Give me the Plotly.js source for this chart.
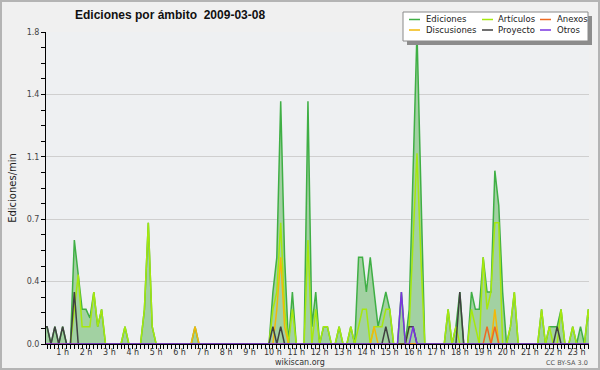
<!DOCTYPE html>
<html>
<head>
<meta charset="utf-8">
<script src="https://cdn.plot.ly/plotly-3.0.1.min.js"></script>
<style>
  html, body { margin: 0; padding: 0; background: #f0f0f0; }
  #wrap { position: relative; width: 600px; height: 370px; }
  #chart { width: 600px; height: 370px; }
  #frame { position: absolute; left: 0; top: 0; width: 600px; height: 370px; box-sizing: border-box;
           border: 2px solid #b4b4b4; pointer-events: none; }
</style>
</head>
<body>
<div id="wrap"><div id="chart"></div><div id="frame"></div></div>
<script>
// ---- data: 10-minute bins (00:00 .. 23:50), edits per minute ----
const ediciones = [
  0, 0.1, 0.1, 0, 0.1, 0,        // 0 h
  0.1, 0, 0, 0.6, 0.4, 0.2,      // 1 h
  0.2, 0.15, 0.3, 0.1, 0.2, 0,   // 2 h
  0, 0, 0, 0, 0.1, 0,            // 3 h
  0, 0, 0, 0.2, 0.7, 0.1,        // 4 h
  0, 0, 0, 0, 0, 0,              // 5 h
  0, 0, 0, 0, 0.1, 0,            // 6 h
  0, 0, 0, 0, 0, 0,              // 7 h
  0, 0, 0, 0, 0, 0,              // 8 h
  0, 0, 0, 0, 0, 0,              // 9 h
  0.3, 0.5, 1.4, 0.5, 0, 0.3,    // 10 h
  0, 0, 0, 1.4, 0.1, 0.3,        // 11 h
  0, 0.1, 0.1, 0, 0, 0.1,        // 12 h
  0, 0, 0.1, 0, 0.5, 0.5,        // 13 h
  0.3, 0.5, 0.3, 0.1, 0.2, 0.3,  // 14 h
  0.2, 0, 0, 0.3, 0, 0.2,        // 15 h
  1.0, 1.8, 0.9, 0, 0, 0,        // 16 h
  0, 0, 0, 0.2, 0, 0.1,          // 17 h
  0.3, 0, 0, 0.3, 0.2, 0.2,      // 18 h
  0.5, 0.3, 0.3, 1.0, 0.8, 0.3,  // 19 h
  0, 0.1, 0.3, 0, 0, 0,          // 20 h
  0, 0, 0, 0.2, 0, 0.1,          // 21 h
  0.1, 0.1, 0.2, 0, 0, 0.1,      // 22 h
  0, 0.1, 0, 0.2, 0, 0           // 23 h
];
const articulos = [
  0, 0, 0, 0, 0, 0,
  0, 0, 0, 0.2, 0.4, 0.1,
  0.1, 0.1, 0.3, 0.1, 0.2, 0,
  0, 0, 0, 0, 0.1, 0,
  0, 0, 0, 0.2, 0.7, 0.1,
  0, 0, 0, 0, 0, 0,
  0, 0, 0, 0, 0, 0,
  0, 0, 0, 0, 0, 0,
  0, 0, 0, 0, 0, 0,
  0, 0, 0, 0, 0, 0,
  0.2, 0.3, 0.7, 0.2, 0, 0.2,
  0, 0, 0, 0.6, 0, 0.2,
  0, 0.1, 0.1, 0, 0, 0.1,
  0, 0, 0.1, 0, 0.1, 0.2,
  0.2, 0, 0.1, 0.1, 0.1, 0.2,
  0.2, 0, 0, 0, 0, 0.1,
  0.6, 1.1, 0.5, 0, 0, 0,
  0, 0, 0, 0.2, 0, 0.1,
  0, 0, 0, 0.2, 0.1, 0,
  0.5, 0.2, 0.3, 0.7, 0.7, 0,
  0, 0.1, 0.3, 0, 0, 0,
  0, 0, 0, 0.2, 0, 0.1,
  0, 0, 0.2, 0, 0, 0.1,
  0, 0, 0, 0.2, 0, 0
];
const anexos = [
  0,0,0,0,0,0, 0,0,0,0,0,0, 0,0,0,0,0,0, 0,0,0,0,0,0,
  0,0,0,0,0,0, 0,0,0,0,0,0, 0,0,0,0,0,0, 0,0,0,0,0,0,
  0,0,0,0,0,0, 0,0,0,0,0,0, 0,0,0,0,0,0, 0,0,0,0,0,0,
  0,0,0,0,0,0, 0,0,0,0,0,0, 0,0,0,0,0,0, 0,0,0,0,0,0,
  0,0,0,0,0,0, 0,0,0,0,0,0, 0,0,0,0,0,0,
  0, 0.1, 0, 0.1, 0, 0,          // 19 h
  0,0,0,0,0,0, 0,0,0,0,0,0, 0,0,0,0,0,0, 0,0,0,0,0,0
];
const discusiones = [
  0,0,0,0,0,0, 0,0,0,0,0,0, 0,0,0,0,0,0, 0,0,0,0,0,0,
  0,0,0,0,0,0, 0,0,0,0,0,0,
  0, 0, 0, 0, 0.1, 0,            // 6 h
  0,0,0,0,0,0, 0,0,0,0,0,0, 0,0,0,0,0,0,
  0, 0.2, 0.5, 0.1, 0, 0,        // 10 h
  0,0,0,0,0,0, 0,0,0,0,0,0, 0,0,0,0,0,0,
  0, 0, 0.1, 0, 0, 0,            // 14 h
  0,0,0,0,0,0, 0,0,0,0,0,0, 0,0,0,0,0,0, 0,0,0,0,0,0,
  0, 0, 0, 0.2, 0, 0,            // 19 h
  0,0,0,0,0,0, 0,0,0,0,0,0, 0,0,0,0,0,0, 0,0,0,0,0,0
];
const proyecto = [
  0, 0.1, 0.1, 0, 0.1, 0,        // 0 h
  0.1, 0, 0, 0.3, 0, 0,          // 1 h
  0,0,0,0,0,0, 0,0,0,0,0,0, 0,0,0,0,0,0, 0,0,0,0,0,0,
  0,0,0,0,0,0, 0,0,0,0,0,0, 0,0,0,0,0,0, 0,0,0,0,0,0,
  0.1, 0, 0.1, 0, 0, 0,          // 10 h
  0,0,0,0,0,0, 0,0,0,0,0,0, 0,0,0,0,0,0,
  0, 0, 0, 0, 0, 0.1,            // 14 h
  0, 0, 0, 0, 0, 0.1,            // 15 h
  0.1, 0, 0, 0, 0, 0,            // 16 h
  0,0,0,0,0,0,
  0.3, 0, 0, 0, 0, 0,            // 18 h
  0,0,0,0,0,0, 0,0,0,0,0,0, 0,0,0,0,0,0,
  0, 0.1, 0, 0, 0, 0,            // 22 h
  0,0,0,0,0,0
];
const otros = [
  0,0,0,0,0,0, 0,0,0,0,0,0, 0,0,0,0,0,0, 0,0,0,0,0,0,
  0,0,0,0,0,0, 0,0,0,0,0,0, 0,0,0,0,0,0, 0,0,0,0,0,0,
  0,0,0,0,0,0, 0,0,0,0,0,0, 0,0,0,0,0,0, 0,0,0,0,0,0,
  0,0,0,0,0,0, 0,0,0,0,0,0, 0,0,0,0,0,0,
  0, 0, 0, 0.3, 0, 0,            // 15 h
  0.1, 0, 0, 0, 0, 0,            // 16 h
  0,0,0,0,0,0, 0,0,0,0,0,0, 0,0,0,0,0,0, 0,0,0,0,0,0,
  0,0,0,0,0,0, 0,0,0,0,0,0, 0,0,0,0,0,0
];

const hourTicks = [1,2,3,4,5,6,7,8,9,10,11,12,13,14,15,16,17,18,19,20,21,22,23];
const hourLabels = ['1 h','2 h','3 h','4 h','5 h','6 h','7 h','8 h','9 h','10 h','11 h','12 h',
                    '13 h','14 h','15 h','16 h','17 h','18 h','19 h','20 h','21 h','22 h','23 h'];
const yTicks = [0, 0.36, 0.72, 1.08, 1.44, 1.8];
const yLabels = ['0.0', '0.4', '0.7', '1.1', '1.4', '1.8'];

const titleText = 'Ediciones por ámbito \u00a02009-03-08';
const names  = ['Ediciones', 'Artículos', 'Anexos', 'Discusiones', 'Proyecto', 'Otros'];
const colors = ['#3faf45', '#a6e80e', '#ee6a22', '#f2b90a', '#404040', '#7a35e0'];
const fillColor = '#a2d1a2';

// bin positions in hours (10-minute bins)
const hours = ediciones.map((_, i) => i / 6);

const lineW = 1.5;
const traces = [
  { x: hours, y: ediciones, type: 'scatter', mode: 'lines', fill: 'tozeroy', fillcolor: fillColor,
    line: { color: colors[0], width: lineW }, name: names[0], showlegend: false },
  { x: hours, y: articulos, type: 'scatter', mode: 'lines', line: { color: colors[1], width: lineW }, name: names[1], showlegend: false },
  { x: hours, y: discusiones, type: 'scatter', mode: 'lines', line: { color: colors[3], width: lineW }, name: names[3], showlegend: false },
  { x: hours, y: anexos, type: 'scatter', mode: 'lines', line: { color: colors[2], width: lineW }, name: names[2], showlegend: false },
  { x: hours, y: proyecto, type: 'scatter', mode: 'lines', line: { color: colors[4], width: lineW }, name: names[4], showlegend: false },
  { x: hours, y: otros, type: 'scatter', mode: 'lines', line: { color: colors[5], width: lineW }, name: names[5], showlegend: false }
];

// pixel helpers for decorations (plot area: x 46..589, y 32..344)
const L = 46, R = 589, T = 32, B = 344;
const px = v => (v - L) / (R - L);
const py = v => (B - v) / (B - T);

const shapes = [
  { type: 'rect', xref: 'paper', yref: 'paper', x0: px(407), x1: px(592), y0: py(16), y1: py(45),
    fillcolor: '#8c8c8c', line: { width: 0 }, layer: 'above' },
  { type: 'rect', xref: 'paper', yref: 'paper', x0: px(403), x1: px(588), y0: py(12), y1: py(41),
    fillcolor: '#ffffff', line: { color: '#8a8a8a', width: 1 }, layer: 'above' }
];
const annotations = [];
// legend layout: 3 columns x 2 rows
const legCols = [[0, 3], [1, 4], [2, 5]];
const colLine = [[409, 420], [482, 493], [540, 551]];
const colText = [424, 496, 555];
const rowY = [19.5, 30];
legCols.forEach((col, ci) => {
  col.forEach((si, ri) => {
    shapes.push({ type: 'line', xref: 'paper', yref: 'paper',
      x0: px(colLine[ci][0]), x1: px(colLine[ci][1]), y0: py(rowY[ri]), y1: py(rowY[ri]),
      line: { color: colors[si], width: 1.5 }, layer: 'above' });
    annotations.push({ xref: 'paper', yref: 'paper', x: px(colText[ci]), y: py(rowY[ri]),
      xanchor: 'left', yanchor: 'middle', showarrow: false, text: names[si],
      font: { family: 'DejaVu Sans', size: 8.5, color: '#222' } });
  });
});
annotations.push({ xref: 'paper', yref: 'paper', x: px(300), y: py(362), xanchor: 'center', yanchor: 'middle',
  showarrow: false, text: 'wikiscan.org', font: { family: 'DejaVu Sans', size: 8, color: '#333' } });
annotations.push({ xref: 'paper', yref: 'paper', x: px(590), y: py(363), xanchor: 'right', yanchor: 'middle',
  showarrow: false, text: 'CC BY-SA 3.0', font: { family: 'DejaVu Sans', size: 6.5, color: '#555' } });

const layout = {
  width: 600, height: 370,
  margin: { l: L, r: 600 - R, t: T, b: 370 - B, pad: 0 },
  paper_bgcolor: '#f0f0f0',
  plot_bgcolor: '#eef0f2',
  font: { family: 'DejaVu Sans', size: 8, color: '#333' },
  showlegend: false,
  title: { text: titleText, xref: 'container', yref: 'container', x: 75 / 600, xanchor: 'left',
           y: 1 - 15 / 370, yanchor: 'middle',
           font: { family: 'Liberation Sans', size: 12, weight: 'bold', color: '#111' } },
  xaxis: {
    range: [0.287, 23.53], tickmode: 'array', tickvals: hourTicks, ticktext: hourLabels,
    ticks: 'outside', ticklen: 4, tickcolor: '#000', tickwidth: 1, ticklabelstandoff: -4,
    showline: true, linecolor: '#000', linewidth: 1, showgrid: false, zeroline: false,
    tickfont: { family: 'DejaVu Sans', size: 8, color: '#333' },
    minor: { dtick: 1 / 6, tick0: 0, ticks: 'outside', ticklen: 4, tickcolor: '#000', tickwidth: 1, showgrid: false }
  },
  yaxis: {
    range: [0, 1.8], tickmode: 'array', tickvals: yTicks, ticktext: yLabels,
    ticks: 'outside', ticklen: 4, tickcolor: '#000', tickwidth: 1,
    showline: true, linecolor: '#000', linewidth: 1, showgrid: true, gridcolor: '#cfcfcf', gridwidth: 1,
    zeroline: false,
    tickfont: { family: 'DejaVu Sans', size: 8, color: '#444' },
    minor: { dtick: 0.09, tick0: 0, ticks: 'outside', ticklen: 4, tickcolor: '#000', tickwidth: 1, showgrid: false },
    title: { text: 'Ediciones/min', standoff: 8, font: { family: 'DejaVu Sans', size: 10, color: '#222' } }
  },
  shapes: shapes,
  annotations: annotations
};

Plotly.newPlot('chart', traces, layout, { staticPlot: true, displayModeBar: false });
</script>
</body>
</html>
